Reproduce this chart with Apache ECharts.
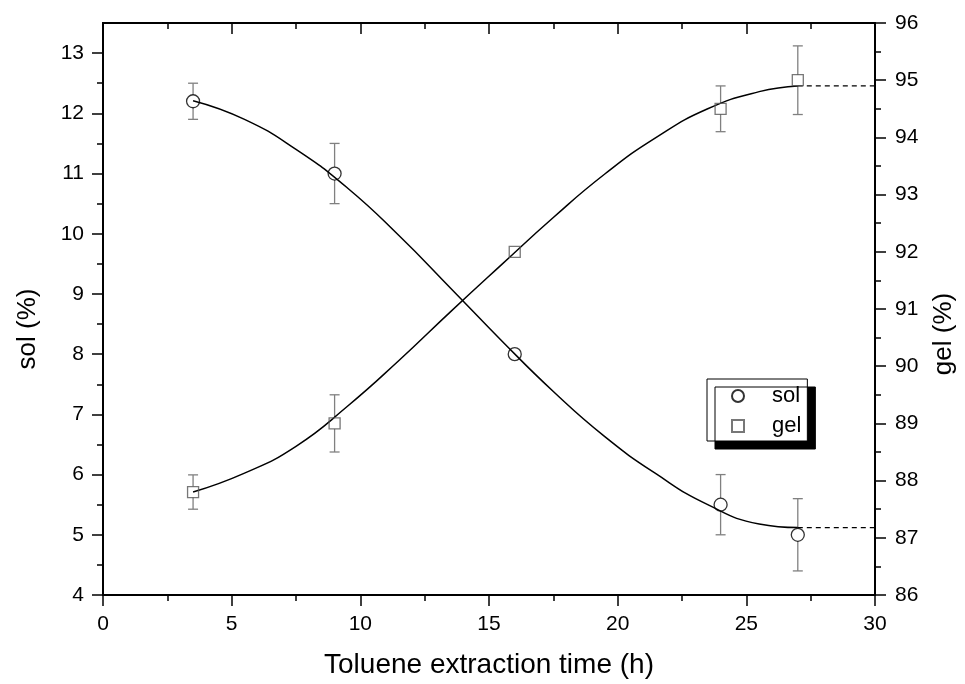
<!DOCTYPE html>
<html>
	<head>
		<meta charset="UTF-8" />
		<title>sol / gel</title>
		<script src="https://cdn.jsdelivr.net/npm/echarts@6/dist/echarts.min.js"></script>
		<style>
			html, body { margin: 0; padding: 0; background: #fff; }
			#pic { width: 965px; height: 684px; }
		</style>
	</head>
	<body>
		<div id="pic"></div>
		<script>
			// measured points (x = extraction time in h)
			var times = [3.5, 9, 16, 24, 27];
			var solVal = [12.2, 11.0, 8.0, 5.5, 5.0];
			var solErr = [0.3, 0.5, 0, 0.5, 0.6];
			var gelVal = [87.8, 89.0, 92.0, 94.5, 95.0];
			var gelErr = [0.3, 0.5, 0, 0.4, 0.6];

			// fitted curves
			var fitX = [3.5, 5.5, 7.5, 9.5, 11.5, 13.5, 15.5, 17.5, 19.5, 21.5, 23.5, 25.5, 27];
			var solFit = [12.21, 11.9, 11.4, 10.76, 9.97, 9.1, 8.22, 7.38, 6.63, 6.01, 5.5, 5.18, 5.12];
			var gelFit = [87.8, 88.13, 88.6, 89.3, 90.1, 90.95, 91.78, 92.6, 93.36, 94.0, 94.5, 94.8, 94.9];
			// dashed extension after the last point
			var tailX = [27, 30];
			var solTail = [5.12, 5.12];
			var gelTail = [94.9, 94.9];

			var xTicks = [0, 5, 10, 15, 20, 25, 30];
			var solTicks = [4, 5, 6, 7, 8, 9, 10, 11, 12, 13];
			var solMinor = [4.5, 5.5, 6.5, 7.5, 8.5, 9.5, 10.5, 11.5, 12.5];
			var gelTicks = [86, 87, 88, 89, 90, 91, 92, 93, 94, 95, 96];

			function zip(a, b, c) {
				var out = [];
				for (var i = 0; i < a.length; i++) {
					out.push(c ? [a[i], b[i], c[i]] : [a[i], b[i]]);
				}
				return out;
			}

			var font = 'Liberation Sans, Arial, sans-serif';
			var axisLine = { show: true, onZero: false, lineStyle: { color: '#000', width: 2 } };
			var tickStyle = { color: '#000', width: 1.5 };
			var labelStyle = { color: '#000', fontSize: 21, fontFamily: font };

			function errBars(r) {
				return function (params, api) {
					var x = api.value(0), y = api.value(1), e = api.value(2);
					if (!e) return;
					var c = api.coord([x, y]);
					var t = api.coord([x, y + e]);
					var b = api.coord([x, y - e]);
					var st = { stroke: '#808080', lineWidth: 1.3 };
					return {
						type: 'group',
						children: [
							{ type: 'line', shape: { x1: c[0], y1: t[1], x2: c[0], y2: c[1] - r }, style: st },
							{ type: 'line', shape: { x1: c[0], y1: c[1] + r, x2: c[0], y2: b[1] }, style: st },
							{ type: 'line', shape: { x1: c[0] - 5, y1: t[1], x2: c[0] + 5, y2: t[1] }, style: st },
							{ type: 'line', shape: { x1: c[0] - 5, y1: b[1], x2: c[0] + 5, y2: b[1] }, style: st }
						]
					};
				};
			}

			var myChart = echarts.init(document.getElementById('pic'));
			myChart.setOption({
				backgroundColor: '#fff',
				animation: false,
				grid: { left: 103, right: 87, top: 23, bottom: 88, containLabel: false },
				legend: {
					data: ['sol', 'gel'],
					orient: 'vertical',
					left: 707,
					top: 379,
					padding: [5, 6, 3, 24],
					itemGap: 6,
					itemWidth: 12,
					itemHeight: 12,
					selectedMode: false,
					backgroundColor: '#fff',
					borderColor: '#000',
					borderWidth: 1,
					shadowColor: '#000',
					shadowBlur: 0,
					shadowOffsetX: 8,
					shadowOffsetY: 8,
					textStyle: { color: '#000', fontSize: 22, fontFamily: font, lineHeight: 24, padding: [0, 0, 0, 23] }
				},
				xAxis: [{
					type: 'value', position: 'bottom', min: 0, max: 30, interval: 5,
					name: 'Toluene extraction time (h)', nameLocation: 'middle', nameGap: 56,
					nameTextStyle: { color: '#000', fontSize: 28, fontFamily: font },
					axisLine: axisLine,
					axisTick: { show: true, length: 11, lineStyle: tickStyle },
					minorTick: { show: true, splitNumber: 2, length: 6, lineStyle: tickStyle },
					axisLabel: Object.assign({ margin: 19, customValues: xTicks }, labelStyle),
					splitLine: { show: false }
				}, {
					type: 'value', position: 'top', min: 0, max: 30, interval: 5,
					axisLine: axisLine,
					axisTick: { show: true, inside: true, length: 11, lineStyle: tickStyle },
					minorTick: { show: true, splitNumber: 2, length: 6, lineStyle: tickStyle },
					axisLabel: { show: false },
					splitLine: { show: false }
				}],
				yAxis: [{
					type: 'value', position: 'left', min: 4, max: 13.5, interval: 1,
					name: 'sol (%)', nameLocation: 'middle', nameGap: 62, nameRotate: 90,
					nameTextStyle: { color: '#000', fontSize: 26, fontFamily: font, padding: [0, 40, 0, 0] },
					axisLine: axisLine,
					axisTick: { show: true, inside: false, length: 11, lineStyle: tickStyle, customValues: solTicks },
					axisLabel: Object.assign({ margin: 19, customValues: solTicks }, labelStyle),
					splitLine: { show: false }
				}, {
					type: 'value', position: 'right', min: 86, max: 96, interval: 1,
					name: 'gel (%)', nameLocation: 'middle', nameGap: 56, nameRotate: 90,
					nameTextStyle: { color: '#000', fontSize: 26, fontFamily: font, padding: [0, 50, 0, 0] },
					axisLine: axisLine,
					axisTick: { show: true, inside: false, length: 11, lineStyle: tickStyle },
					minorTick: { show: true, splitNumber: 2, length: 6, lineStyle: tickStyle },
					axisLabel: Object.assign({ margin: 20, customValues: gelTicks }, labelStyle),
					splitLine: { show: false }
				}, {
					// minor ticks of the left axis only
					type: 'value', position: 'left', offset: 0, min: 4, max: 13.5, interval: 1,
					axisLine: { show: true, onZero: false, lineStyle: { color: '#000', width: 2 } },
					axisTick: { show: true, inside: false, length: 6, lineStyle: tickStyle, customValues: solMinor },
					axisLabel: { show: false },
					splitLine: { show: false }
				}],
				series: [{
					name: 'sol fit', type: 'line', yAxisIndex: 0, smooth: 0.5, symbol: 'none',
					lineStyle: { color: '#000', width: 1.5 },
					data: zip(fitX, solFit), z: 3
				}, {
					name: 'sol tail', type: 'line', yAxisIndex: 0, symbol: 'none',
					lineStyle: { color: '#000', width: 1.2, type: [5, 4] },
					data: zip(tailX, solTail), z: 3
				}, {
					name: 'gel fit', type: 'line', yAxisIndex: 1, smooth: 0.5, symbol: 'none',
					lineStyle: { color: '#000', width: 1.5 },
					data: zip(fitX, gelFit), z: 3
				}, {
					name: 'gel tail', type: 'line', yAxisIndex: 1, symbol: 'none',
					lineStyle: { color: '#000', width: 1.2, type: [5, 4] },
					data: zip(tailX, gelTail), z: 3
				}, {
					name: 'sol err', type: 'custom', yAxisIndex: 0,
					renderItem: errBars(6.5),
					data: zip(times, solVal, solErr), z: 2
				}, {
					name: 'gel err', type: 'custom', yAxisIndex: 1,
					renderItem: errBars(5.5),
					data: zip(times, gelVal, gelErr), z: 2
				}, {
					name: 'sol', type: 'scatter', yAxisIndex: 0, symbol: 'circle', symbolSize: 13,
					itemStyle: { color: 'rgba(255,255,255,0)', borderColor: '#000', borderWidth: 1.3 },
					data: zip(times, solVal), z: 4
				}, {
					name: 'gel', type: 'scatter', yAxisIndex: 1, symbol: 'rect', symbolSize: 11,
					itemStyle: { color: 'rgba(255,255,255,0)', borderColor: '#555', borderWidth: 1.3 },
					data: zip(times, gelVal), z: 4
				}]
			});
		</script>
	</body>
</html>
